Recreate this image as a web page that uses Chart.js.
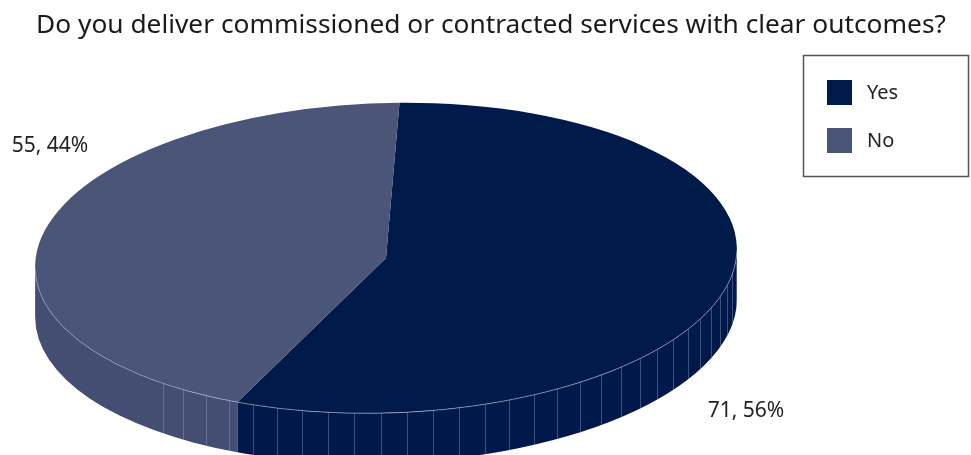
<!DOCTYPE html>
<html>
<head>
<meta charset="utf-8">
<script src="https://cdn.jsdelivr.net/npm/chart.js@4"></script>
<style>
body { margin: 0; background: #fff; }
#wrap { width: 971px; height: 455px; }
</style>
</head>
<body>
<div id="wrap"><canvas id="myChart"></canvas></div>
<script>
// answers and how many said each
const answers = ['Yes', 'No'];
const counts = [71, 55];
const topColours = ['#001a4a', '#4a5577'];
const sideColours = ['#00184a', '#444e72'];

// the 3d look is faked: circle squashed into a slightly tilted ellipse plus a wall under it
const pie = {cx: 386, cy: 258, rx: 351, ry: 155, tilt: -1.8 * Math.PI / 180, depth: 50};
const labelSpots = [{x: 746, y: 411}, {x: 50, y: 146}];
const fontName = '"Noto Sans", "Open Sans", sans-serif';

function rimPoint(t, dy) {
  const c = Math.cos(pie.tilt), s = Math.sin(pie.tilt);
  const ex = pie.rx * Math.cos(t), ey = pie.ry * Math.sin(t);
  return {x: pie.cx + ex * c - ey * s, y: pie.cy + dy + ex * s + ey * c};
}

const pie3d = {
  id: 'pie3d',
  beforeDatasetsDraw(chart) {
    const ctx = chart.ctx;
    const arcs = chart.getDatasetMeta(0).data;
    // part of the rim that faces us
    const t0 = Math.atan(-pie.ry * Math.sin(pie.tilt) / (pie.rx * Math.cos(pie.tilt)));
    const t1 = t0 + Math.PI;

    // walls
    arcs.forEach((arc, i) => {
      for (let k = -1; k <= 1; k++) {
        const off = 2 * Math.PI * k;
        const a = Math.max(arc.startAngle, off + t0);
        const b = Math.min(arc.endAngle, off + t1);
        if (b <= a) continue;
        ctx.save();
        ctx.beginPath();
        ctx.ellipse(pie.cx, pie.cy, pie.rx, pie.ry, pie.tilt, a, b);
        ctx.ellipse(pie.cx, pie.cy + pie.depth, pie.rx, pie.ry, pie.tilt, b, a, true);
        ctx.closePath();
        ctx.fillStyle = sideColours[i];
        ctx.fill();
        ctx.clip();
        // thin facet lines like the original renderer leaves
        ctx.strokeStyle = 'rgba(150,165,200,0.4)';
        ctx.lineWidth = 1;
        for (let t = 0.1; t < 2.32; t += 0.075) {
          if (t + off < a || t + off > b) continue;
          const p = rimPoint(t, 0);
          const x = Math.round(p.x) + 0.5;
          ctx.beginPath();
          ctx.moveTo(x, p.y);
          ctx.lineTo(x, p.y + pie.depth + 2);
          ctx.stroke();
        }
        ctx.restore();
      }
    });

    // top faces, drawn by chart.js itself but squashed and tilted
    arcs.forEach(arc => {
      ctx.save();
      ctx.translate(pie.cx, pie.cy);
      ctx.rotate(pie.tilt);
      ctx.scale(pie.rx / arc.outerRadius, pie.ry / arc.outerRadius);
      ctx.translate(-arc.x, -arc.y);
      arc.draw(ctx);
      ctx.restore();
    });

    // light rim along the front edge
    ctx.save();
    ctx.beginPath();
    ctx.ellipse(pie.cx, pie.cy, pie.rx, pie.ry, pie.tilt, t0 + 0.02, t1 - 0.02);
    ctx.strokeStyle = 'rgba(170,185,215,0.6)';
    ctx.lineWidth = 1;
    ctx.stroke();
    ctx.restore();

    return false;
  },
  afterDraw(chart) {
    const ctx = chart.ctx;
    const ds = chart.data.datasets[0];
    const total = ds.data.reduce((s, v) => s + v, 0);

    // value labels
    ctx.save();
    ctx.font = '21px ' + fontName;
    ctx.fillStyle = '#222';
    ctx.textAlign = 'center';
    ctx.textBaseline = 'middle';
    ds.data.forEach((v, i) => {
      const pct = Math.round(v / total * 100);
      ctx.fillText(v + ', ' + pct + '%', labelSpots[i].x, labelSpots[i].y);
    });
    ctx.restore();

    // legend in a box, right side
    ctx.save();
    ctx.strokeStyle = '#555';
    ctx.lineWidth = 1.5;
    ctx.strokeRect(803.5, 55.5, 165, 121);
    ctx.font = '20px ' + fontName;
    ctx.textBaseline = 'middle';
    chart.data.labels.forEach((lab, i) => {
      const y = 80 + i * 48;
      ctx.fillStyle = ds.backgroundColor[i];
      ctx.fillRect(827, y, 25, 25);
      ctx.fillStyle = '#222';
      ctx.fillText(lab, 867, y + 13);
    });
    ctx.restore();
  }
};

const ctx = document.getElementById('myChart');

new Chart(ctx, {
  type: 'pie',
  data: {
    labels: answers,
    datasets: [{
      data: counts,
      backgroundColor: topColours,
      borderWidth: 0
    }]
  },
  options: {
    responsive: true,
    maintainAspectRatio: false,
    animation: false,
    rotation: 3,
    events: [],
    layout: { padding: { left: 11 } },
    plugins: {
      legend: { display: false },
      tooltip: { enabled: false },
      title: {
        display: true,
        text: 'Do you deliver commissioned or contracted services with clear outcomes?',
        color: '#1a1a1a',
        font: { family: fontName, size: 26.3, weight: 'normal' },
        padding: { top: 10, bottom: 8 }
      }
    }
  },
  plugins: [pie3d]
});
</script>
</body>
</html>
